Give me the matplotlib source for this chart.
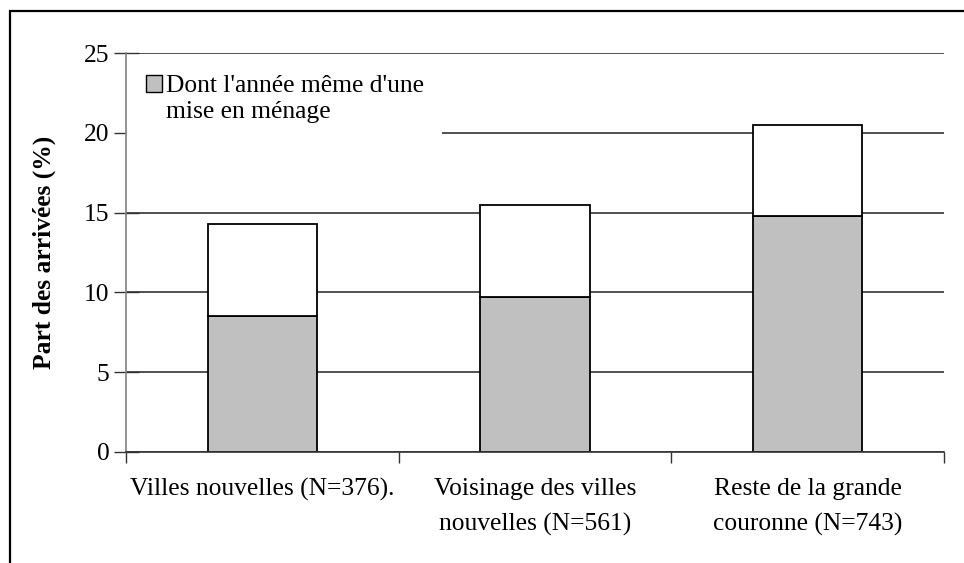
import matplotlib.pyplot as plt
from matplotlib.patches import Patch, Rectangle

# data (percent of arrivals)
categories = ['Villes nouvelles (N=376).',
              'Voisinage des villes\nnouvelles (N=561)',
              'Reste de la grande\ncouronne (N=743)']
total = [14.3, 15.5, 20.5]
same_year = [8.5, 9.7, 14.8]
legend_lines = ["Dont l'année même d'une", "mise en ménage"]
yticks = [0, 5, 10, 15, 20, 25]

plt.rcParams['font.family'] = ['Liberation Serif', 'DejaVu Serif']
plt.rcParams['font.size'] = 18.4

fig = plt.figure(figsize=(9.64, 5.63), dpi=100)
ax = fig.add_axes([126 / 964, 1 - 452 / 563, 818 / 964, 399 / 563])

x = list(range(len(categories)))
rest = [t - s for t, s in zip(total, same_year)]
ax.bar(x, same_year, width=0.4, color='#C0C0C0', edgecolor='black', linewidth=1.3, zorder=2)
ax.bar(x, rest, bottom=same_year, width=0.4, color='white', edgecolor='black', linewidth=1.3, zorder=2)

ax.set_xlim(-0.5, 2.5)
ax.set_ylim(0, 25)
ax.set_yticks(yticks)
ax.yaxis.grid(True, color='#333333', linewidth=1.2)
ax.set_axisbelow(True)
ax.tick_params(axis='y', direction='inout', length=18, width=1.0, color='#333333', pad=3)

ax.set_xticks(x)
ax.set_xticklabels(categories)
for lab in ax.get_xticklabels():
    lab.set_linespacing(1.7)
ax.set_xticks([-0.5, 0.5, 1.5, 2.5], minor=True)
ax.tick_params(axis='x', which='major', length=0, pad=19)
ax.tick_params(axis='x', which='minor', length=8, width=1.0, color='#333333')

for side in ['top', 'right']:
    ax.spines[side].set_visible(False)
ax.spines['left'].set_color('#808080')
ax.spines['left'].set_linewidth(1.2)
ax.spines['bottom'].set_color('#333333')
ax.spines['bottom'].set_linewidth(1.2)

ax.set_ylabel('Part des arrivées (%)', fontweight='bold', labelpad=20)

# white area behind the legend hides the 20 % gridline there
ax.add_patch(Rectangle((-0.5, 18.0), 1.16, 6.5, facecolor='white', edgecolor='none', zorder=1))

handles = [Patch(facecolor='#C0C0C0', edgecolor='black', linewidth=1.0),
           Patch(facecolor='none', edgecolor='none')]
leg = ax.legend(handles=handles, labels=legend_lines, loc='upper left',
                bbox_to_anchor=(0.0245, 0.945), frameon=False,
                handlelength=0.62, handleheight=0.62, handletextpad=0.15,
                labelspacing=0.14, borderpad=0, borderaxespad=0)
leg.set_zorder(3)

# outer border of the chart area
fig.patches.append(Rectangle((10 / 964, -0.1), 1.2, 1.1 - 11 / 563, transform=fig.transFigure,
                             fill=False, edgecolor='black', linewidth=1.6))

fig.savefig('out.png', dpi=100)
